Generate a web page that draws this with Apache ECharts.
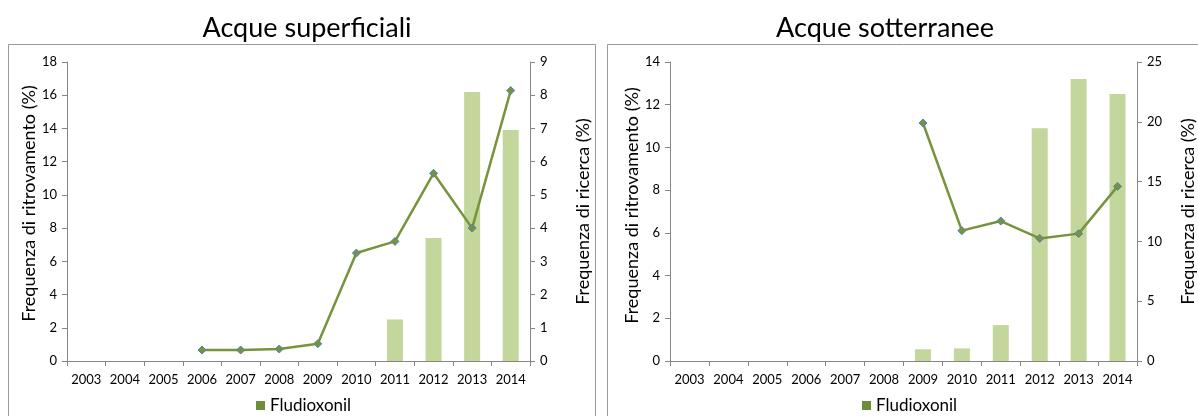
<!DOCTYPE html>
<html>
<head>
<meta charset="utf-8">
<script src="https://cdn.jsdelivr.net/npm/echarts@6/dist/echarts.min.js"></script>
<style>
html,body{margin:0;padding:0;background:#fff;}
#c{width:1198px;height:416px;}
</style>
</head>
<body>
<div id="c"></div>
<script>
const years = ['2003','2004','2005','2006','2007','2008','2009','2010','2011','2012','2013','2014'];
const seriesName = 'Fludioxonil';
const titleSup = 'Acque superficiali';
const titleSot = 'Acque sotterranee';
const nameLeft = 'Frequenza di ritrovamento (%)';
const nameRight = 'Frequenza di ricerca (%)';
// Acque superficiali
const supRitrovamento = [null,null,null,null,null,null,null,null,2.5,7.4,16.2,13.9];
const supRicerca = [null,null,null,0.33,0.33,0.36,0.52,3.25,3.6,5.65,4.0,8.14];
// Acque sotterranee
const sotRitrovamento = [null,null,null,null,null,null,0.55,0.59,1.68,10.9,13.2,12.5];
const sotRicerca = [null,null,null,null,null,null,19.9,10.9,11.7,10.25,10.65,14.6];

const FONT = 'Lato';
const axisCol = '#868686';
const barCol = '#C3D69B';
const lineCol = '#77933C';

function xAx(gi){
  return {
    type:'category', gridIndex:gi, data:years, boundaryGap:true,
    axisLine:{lineStyle:{color:axisCol,width:1}},
    axisTick:{show:true,length:5,lineStyle:{color:axisCol}},
    axisLabel:{color:'#000',fontFamily:FONT,fontSize:13,margin:12,interval:0}
  };
}
function yAx(gi,max,interval,pos,name,gap,pad){
  return {
    type:'value', gridIndex:gi, min:0, max:max, interval:interval, position:pos,
    name:name, nameLocation:'middle', nameGap:gap, nameRotate:90,
    nameTextStyle:{color:'#000',fontFamily:FONT,fontSize:18,padding:pad},
    axisLine:{show:true,lineStyle:{color:axisCol,width:1}},
    axisTick:{show:true,length:5,lineStyle:{color:axisCol}},
    axisLabel:{color:'#000',fontFamily:FONT,fontSize:13,margin:10},
    splitLine:{show:false}
  };
}
function barS(x,y,data){
  return {type:'bar',name:'bar'+x,xAxisIndex:x,yAxisIndex:y,data:data,barWidth:16,
    itemStyle:{color:barCol},silent:true};
}
function lineS(x,y,data){
  return {type:'line',name:seriesName,xAxisIndex:x,yAxisIndex:y,data:data,
    symbol:'diamond',symbolSize:8,showSymbol:true,
    lineStyle:{color:lineCol,width:2.5},
    itemStyle:{color:lineCol,borderColor:'#4F81BD',borderWidth:1},
    connectNulls:false};
}
function leg(left){
  return {data:[seriesName],left:left,top:392,icon:'rect',itemWidth:9,itemHeight:9,itemGap:4,
    itemStyle:{color:'#6B8E3A',borderWidth:0},
    textStyle:{fontFamily:FONT,fontSize:17,color:'#000',padding:[0,0,0,0]},selectedMode:false};
}

const chart = echarts.init(document.getElementById('c'),null,{renderer:'canvas'});
chart.setOption({
  animation:false,
  backgroundColor:'#fff',
  graphic:[
    {type:'rect',shape:{x:8.5,y:44.5,width:587,height:400},style:{fill:'none',stroke:'#9a9a9a',lineWidth:1},z:-1},
    {type:'rect',shape:{x:607.5,y:44.5,width:620,height:400},style:{fill:'none',stroke:'#9a9a9a',lineWidth:1},z:-1}
  ],
  title:[
    {text:titleSup,left:302,top:10,textAlign:'center',textStyle:{fontFamily:FONT,fontSize:27,fontWeight:'normal',color:'#000'}},
    {text:titleSot,left:880,top:10,textAlign:'center',textStyle:{fontFamily:FONT,fontSize:27,fontWeight:'normal',color:'#000'}}
  ],
  legend:[leg(251),leg(857)],
  grid:[
    {left:67,top:62,width:463,height:299},
    {left:670,top:62,width:471,height:299}
  ],
  xAxis:[xAx(0),xAx(1)],
  yAxis:[
    yAx(0,18,2,'left',nameLeft,29,[0,0,0,16]),
    yAx(0,9,1,'right',nameRight,44,[0,0,0,0]),
    yAx(1,14,2,'left',nameLeft,29,[0,0,0,12]),
    yAx(1,25,5,'right',nameRight,42,[0,0,0,0])
  ],
  series:[
    barS(0,0,supRitrovamento),
    lineS(0,1,supRicerca),
    barS(1,2,sotRitrovamento),
    lineS(1,3,sotRicerca)
  ]
});
</script>
</body>
</html>
